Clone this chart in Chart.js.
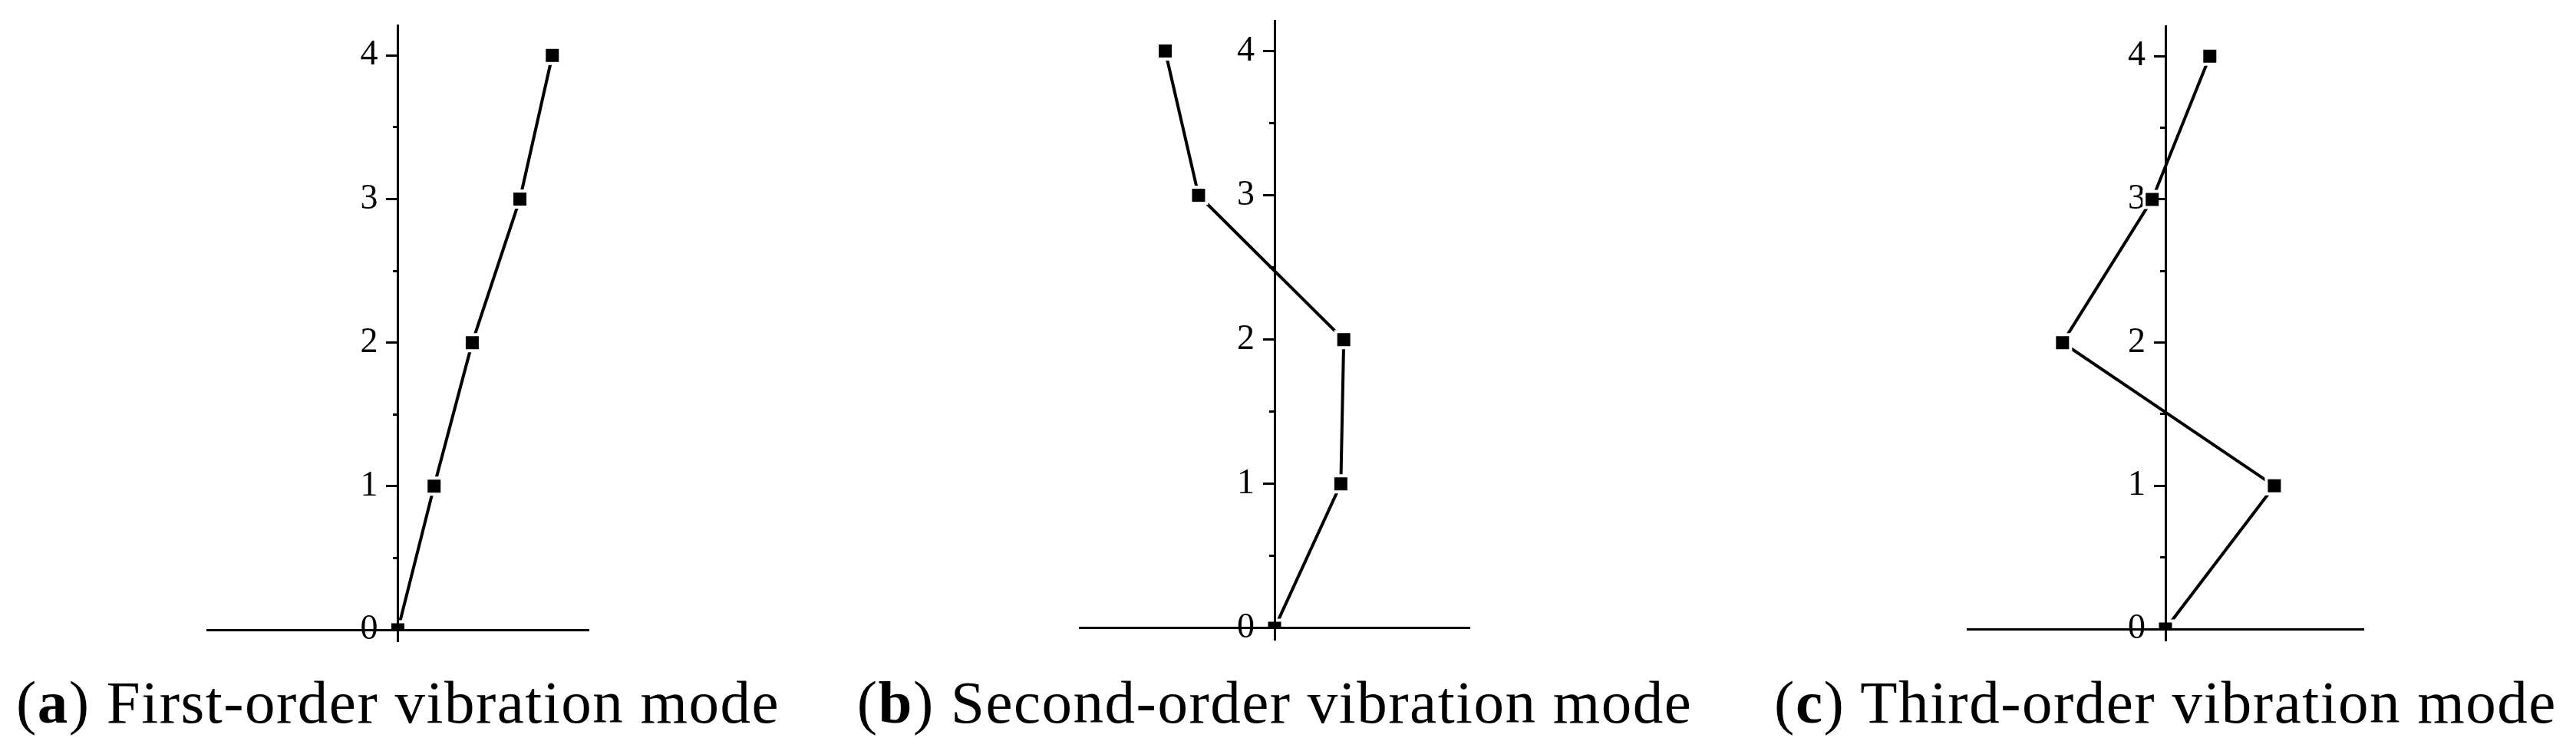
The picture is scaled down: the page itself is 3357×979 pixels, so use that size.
<!DOCTYPE html>
<html>
<head>
<meta charset="utf-8">
<script src="https://cdn.jsdelivr.net/npm/chart.js@4.4.0/dist/chart.umd.min.js"></script>
<style>
  html, body { margin: 0; padding: 0; background: #fff; }
  body { width: 3357px; height: 979px; position: relative; overflow: hidden; }
  canvas { position: absolute; }
  .cap {
    position: absolute; top: 876px; width: 1400px; text-align: center;
    font-family: 'Liberation Serif', serif; font-size: 79px; line-height: 79px;
    letter-spacing: 1.5px; color: #000; white-space: nowrap;
  }
</style>
</head>
<body>
<canvas id="chartA"></canvas>
<canvas id="chartB"></canvas>
<canvas id="chartC"></canvas>
<div class="cap" id="capA"></div>
<div class="cap" id="capB"></div>
<div class="cap" id="capC"></div>
<script>
// floor levels and mode shape displacements (normalised)
const floors = [0, 1, 2, 3, 4];
const modeFirst = [0, 0.19, 0.39, 0.64, 0.81];
const modeSecond = [0, 0.34, 0.355, -0.39, -0.561];
const modeThird = [0, 0.55, -0.52, -0.067, 0.224];
const yTicks = [0, 1, 2, 3, 4];
const yMinorTicks = [0.5, 1.5, 2.5, 3.5];
const captionLetters = ['a', 'b', 'c'];
const captionTexts = ['First-order vibration mode', 'Second-order vibration mode', 'Third-order vibration mode'];

const pad = 40;
const panels = [
  { id: 'chartA', cap: 'capA', mode: modeFirst,  area: { left: 270, right: 767, top: 33, bottom: 836 } },
  { id: 'chartB', cap: 'capB', mode: modeSecond, area: { left: 1407, right: 1915, top: 27, bottom: 834 } },
  { id: 'chartC', cap: 'capC', mode: modeThird,  area: { left: 2564, right: 3080, top: 34, bottom: 835 } }
];

function zeroFit(s) {
  if (s.isHorizontal()) s.height = 0; else s.width = 0;
  s.paddingTop = 0; s.paddingBottom = 0; s.paddingLeft = 0; s.paddingRight = 0;
}

panels.forEach((p, i) => {
  const cv = document.getElementById(p.id);
  const w = p.area.right - p.area.left + 2 * pad;
  const h = p.area.bottom - p.area.top + 2 * pad;
  cv.width = w; cv.height = h;
  cv.style.left = (p.area.left - pad) + 'px';
  cv.style.top = (p.area.top - pad) + 'px';
  cv.style.width = w + 'px'; cv.style.height = h + 'px';

  new Chart(cv.getContext('2d'), {
    type: 'scatter',
    data: {
      datasets: [{
        data: floors.map((f, k) => ({ x: p.mode[k], y: f })),
        showLine: true,
        borderColor: '#000',
        borderWidth: 4,
        pointStyle: 'rect',
        pointRadius: 14.85,
        pointBackgroundColor: '#000',
        pointBorderColor: '#fff',
        pointBorderWidth: 4,
        clip: { left: 30, top: 30, right: 30, bottom: -15 }
      }]
    },
    options: {
      responsive: false,
      animation: false,
      devicePixelRatio: 1,
      layout: { padding: pad },
      plugins: { legend: { display: false }, tooltip: { enabled: false } },
      scales: {
        x: {
          type: 'linear', min: -1, max: 1, position: { y: 0 },
          ticks: { display: false },
          grid: { display: false, z: 1 },
          border: { color: '#000', width: 3, z: 1 },
          afterFit: zeroFit
        },
        y: {
          type: 'linear', axis: 'y', min: -0.08, max: 4.21, position: 'center',
          afterBuildTicks: s => { s.ticks = yTicks.map(v => ({ value: v })); },
          ticks: {
            color: '#000', padding: 12,
            font: { family: 'Liberation Serif', size: 46 },
            callback: v => String(v)
          },
          grid: { drawOnChartArea: false, tickLength: 14, tickWidth: 3, tickColor: '#000', z: 1 },
          border: { color: '#000', width: 3, z: 1 },
          afterFit: zeroFit
        },
        yMinor: {
          type: 'linear', axis: 'y', min: -0.08, max: 4.21, position: 'center',
          afterBuildTicks: s => { s.ticks = yMinorTicks.map(v => ({ value: v })); },
          ticks: { display: false },
          grid: { drawOnChartArea: false, tickLength: 7, tickWidth: 3, tickColor: '#000', z: 1 },
          border: { display: false },
          afterFit: zeroFit
        }
      }
    }
  });

  const cap = document.getElementById(p.cap);
  const cx = (p.area.left + p.area.right) / 2;
  cap.style.left = (cx - 700) + 'px';
  cap.innerHTML = '(<b>' + captionLetters[i] + '</b>) ' + captionTexts[i];
});
</script>
</body>
</html>
